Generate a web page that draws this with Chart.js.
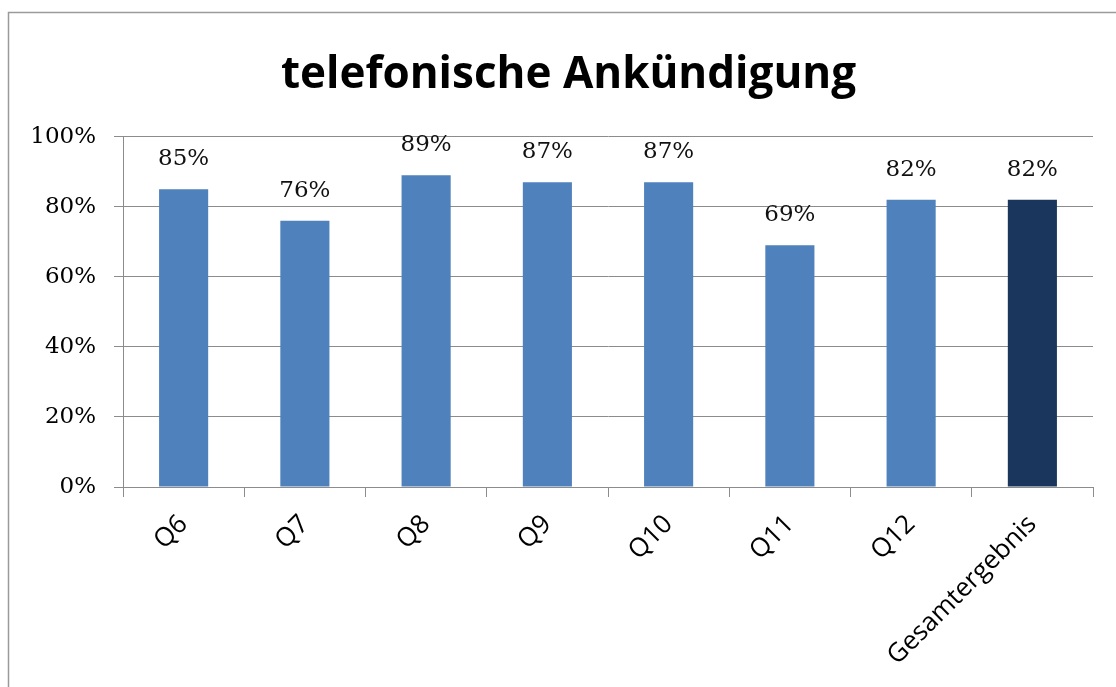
<!DOCTYPE html>
<html>
<head>
<meta charset="utf-8">
<script src="https://cdn.jsdelivr.net/npm/chart.js@4/dist/chart.umd.min.js"></script>
<style>
  html, body { margin: 0; padding: 0; background: #fff; }
  #wrap { width: 1116px; height: 687px; position: relative; }
</style>
</head>
<body>
<div id="wrap"><canvas id="c" width="1116" height="687"></canvas></div>
<script>
// Categories and values (percent)
const categories = ['Q6', 'Q7', 'Q8', 'Q9', 'Q10', 'Q11', 'Q12', 'Gesamtergebnis'];
const values = [85, 76, 89, 87, 87, 69, 82, 82];
const yTicks = [0, 20, 40, 60, 80, 100];
const chartTitle = 'telefonische Ankündigung';

const barBlue = '#4F81BD';
const totalNavy = '#1B365C';
const gridGray = '#8c8c8c';

const barColors = categories.map((c, i) => i === categories.length - 1 ? totalNavy : barBlue);

// white page + outer frame
const framePlugin = {
  id: 'frame',
  beforeDraw(chart) {
    const ctx = chart.ctx;
    ctx.save();
    ctx.fillStyle = '#fff';
    ctx.fillRect(0, 0, chart.width, chart.height);
    ctx.strokeStyle = '#9a9a9a';
    ctx.lineWidth = 1.5;
    ctx.strokeRect(8.5, 12.5, chart.width + 20, chart.height + 20);
    ctx.restore();
  }
};

// centre the title over the framed area rather than the whole canvas
const titleShift = {
  id: 'titleShift',
  afterLayout(chart) {
    if (chart.titleBlock) chart.titleBlock.left = 44;
  }
};

// value labels above each bar
const valueLabels = {
  id: 'valueLabels',
  afterDatasetsDraw(chart) {
    const ctx = chart.ctx;
    const meta = chart.getDatasetMeta(0);
    ctx.save();
    ctx.font = '23px "DejaVu Serif"';
    ctx.fillStyle = '#111';
    ctx.textAlign = 'center';
    ctx.textBaseline = 'middle';
    meta.data.forEach((bar, i) => {
      ctx.fillText(values[i] + '%', bar.x, bar.y - 30);
    });
    ctx.restore();
  }
};

new Chart(document.getElementById('c'), {
  type: 'bar',
  data: {
    labels: categories,
    datasets: [{
      data: values,
      backgroundColor: barColors,
      borderWidth: 0,
      categoryPercentage: 1,
      barPercentage: 0.405
    }]
  },
  options: {
    responsive: false,
    animation: false,
    devicePixelRatio: 1,
    layout: { padding: { left: 0, right: 23, top: 0, bottom: 0 } },
    plugins: {
      legend: { display: false },
      tooltip: { enabled: false },
      title: {
        display: true,
        text: chartTitle,
        color: '#000',
        font: { family: '"Open Sans"', size: 44, weight: 'bold', lineHeight: 1.2 },
        padding: { top: 49, bottom: 35 }
      }
    },
    scales: {
      y: {
        min: 0,
        max: 100,
        afterBuildTicks(scale) { scale.ticks = yTicks.map(v => ({ value: v })); },
        afterFit(scale) { scale.width = 123; },
        ticks: {
          callback: v => v + '%',
          color: '#000',
          font: { family: '"DejaVu Serif"', size: 23 },
          padding: 18
        },
        grid: { color: gridGray, lineWidth: 1, tickLength: 9 },
        border: { color: gridGray, width: 1 }
      },
      x: {
        afterFit(scale) { scale.height = 200; },
        ticks: {
          color: '#000',
          maxRotation: 45,
          minRotation: 45,
          font: { family: '"Open Sans"', size: 26 },
          padding: 12
        },
        grid: { offset: true, drawOnChartArea: false, color: gridGray, tickLength: 10 },
        border: { color: gridGray, width: 1 }
      }
    }
  },
  plugins: [framePlugin, titleShift, valueLabels]
});
</script>
</body>
</html>
